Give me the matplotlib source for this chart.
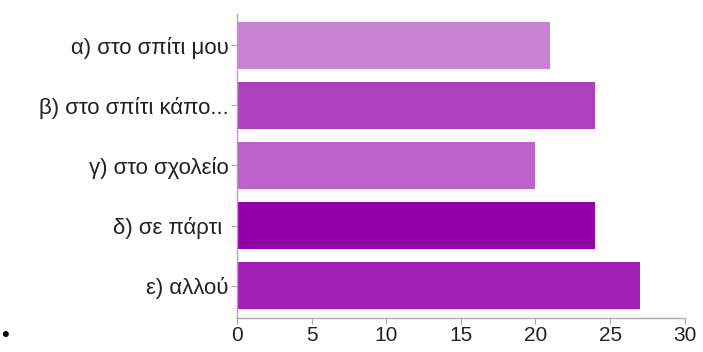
import matplotlib.pyplot as plt
import numpy as np

labels = ['α) στο σπίτι μου', 'β) στο σπίτι κάπο...', 'γ) στο σχολείο', 'δ) σε πάρτι ', 'ε) αλλού']
values = [21, 24, 20, 24, 27]
colors = ['#C983D3', '#AE40BE', '#BD62CA', '#9400A9', '#A21FB6']

plt.rcParams['font.family'] = ['Liberation Sans', 'DejaVu Sans']

fig = plt.figure(figsize=(7.03, 3.52), dpi=100)
ax = fig.add_axes([0.337, 0.0966, 0.637, 0.864])

y = np.arange(len(labels))
ax.barh(y, values, height=0.78, color=colors)

ax.set_xlim(0, 30)
ax.set_ylim(4.54, -0.525)
ax.set_xticks([0, 5, 10, 15, 20, 25, 30])
ax.set_yticks(y)
ax.set_yticklabels(labels)

for s in ['top', 'right']:
    ax.spines[s].set_visible(False)
for s in ['left', 'bottom']:
    ax.spines[s].set_color('#aaaaaa')
    ax.spines[s].set_linewidth(1)
ax.tick_params(axis='both', colors='#aaaaaa', labelcolor='#222222', labelsize=15, length=4, pad=2)
ax.tick_params(axis='y', labelsize=16)

fig.text(0.002, 0.03, '•', fontsize=16, color='black')

fig.savefig('out.png', dpi=100)
